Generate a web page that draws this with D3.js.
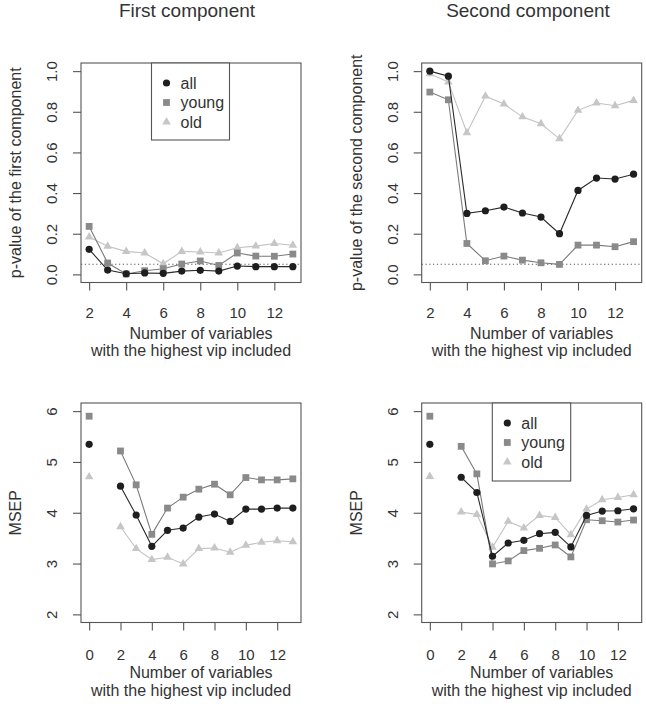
<!DOCTYPE html>
<html>
<head>
<meta charset="utf-8">
<script src="https://cdn.jsdelivr.net/npm/d3@7"></script>
<style>
  html, body { margin: 0; padding: 0; background: #fff; }
  svg { display: block; }
  text { font-family: "Liberation Sans", Arial, sans-serif; fill: #333; }
</style>
</head>
<body>
<svg id="chart" width="646" height="704"></svg>
<script>
// ---------- data ----------
const seriesNames = ["all", "young", "old"];
const titles = ["First component", "Second component"];
const xLabelLines = ["Number of variables", "with the highest vip included"];
const yLabels = ["p-value of the first component", "p-value of the second component", "MSEP", "MSEP"];

const pX = [2, 3, 4, 5, 6, 7, 8, 9, 10, 11, 12, 13];
const mX = [0, 2, 3, 4, 5, 6, 7, 8, 9, 10, 11, 12, 13];

const pTicksX = [2, 4, 6, 8, 10, 12];
const mTicksX = [0, 2, 4, 6, 8, 10, 12];
const pTicksY = [0.0, 0.2, 0.4, 0.6, 0.8, 1.0];
const mTicksY = [2, 3, 4, 5, 6];
const pLimY = [0, 1];
const mLimY = [2, 6];
const thresholdP = 0.05;

// First component p-values
const p1All   = [0.123, 0.021, 0.003, 0.007, 0.005, 0.016, 0.020, 0.016, 0.041, 0.038, 0.038, 0.038];
const p1Young = [0.236, 0.056, 0.002, 0.018, 0.028, 0.051, 0.066, 0.044, 0.105, 0.090, 0.089, 0.100];
const p1Old   = [0.184, 0.138, 0.113, 0.105, 0.052, 0.113, 0.110, 0.105, 0.131, 0.139, 0.152, 0.143];

// Second component p-values
const p2All   = [1.000, 0.975, 0.300, 0.313, 0.331, 0.302, 0.282, 0.200, 0.413, 0.474, 0.469, 0.493];
const p2Young = [0.897, 0.859, 0.152, 0.067, 0.090, 0.070, 0.057, 0.049, 0.144, 0.144, 0.136, 0.161];
const p2Old   = [0.987, 0.946, 0.697, 0.877, 0.838, 0.775, 0.741, 0.667, 0.807, 0.843, 0.830, 0.856];

// First component MSEP
const m1All   = [5.346, 4.523, 3.954, 3.340, 3.654, 3.699, 3.915, 3.974, 3.830, 4.072, 4.072, 4.092, 4.092];
const m1Young = [5.900, 5.216, 4.549, 3.575, 4.092, 4.307, 4.464, 4.562, 4.353, 4.693, 4.647, 4.647, 4.667];
const m1Old   = [4.706, 3.725, 3.294, 3.078, 3.124, 2.993, 3.294, 3.307, 3.222, 3.360, 3.418, 3.450, 3.430];

// Second component MSEP
const m2All   = [5.346, 4.699, 4.399, 3.144, 3.405, 3.458, 3.588, 3.614, 3.327, 3.948, 4.033, 4.039, 4.078];
const m2Young = [5.900, 5.307, 4.765, 2.993, 3.052, 3.255, 3.300, 3.366, 3.131, 3.863, 3.843, 3.817, 3.856];
const m2Old   = [4.712, 4.013, 3.967, 3.320, 3.830, 3.699, 3.948, 3.908, 3.569, 4.072, 4.255, 4.300, 4.353];

// ---------- styles ----------
const colors = { all: "#1e1e1e", young: "#8a8a8a", old: "#c6c6c6" };
const lineColors = { all: "#2a2a2a", young: "#7a7a7a", old: "#c2c2c2" };
const shapes = { all: "circle", young: "square", old: "triangle" };

const svg = d3.select("#chart");

function rLim(lo, hi) { const d = (hi - lo) * 0.04; return [lo - d, hi + d]; }

function symbolPath(shape) {
  if (shape === "circle") return d3.symbol(d3.symbolCircle, Math.PI * 3.6 * 3.6)();
  if (shape === "square") return d3.symbol(d3.symbolSquare, 6.8 * 6.8)();
  return d3.symbol(d3.symbolTriangle, Math.sqrt(3) / 4 * 8.6 * 8.6)();
}

function drawMarker(g, shape, x, y, color) {
  g.append("path")
    .attr("d", symbolPath(shape))
    .attr("transform", `translate(${x},${y})`)
    .attr("fill", color);
}

function panel(cfg) {
  const g = svg.append("g");
  const { left, top, width, height } = cfg;
  const right = left + width, bottom = top + height;

  const xs = d3.scaleLinear().domain(rLim(d3.min(cfg.xs), d3.max(cfg.xs))).range([left, right]);
  const ys = d3.scaleLinear().domain(rLim(cfg.ylim[0], cfg.ylim[1])).range([bottom, top]);

  // threshold line
  if (cfg.threshold !== undefined) {
    g.append("line")
      .attr("x1", left).attr("x2", right)
      .attr("y1", ys(cfg.threshold)).attr("y2", ys(cfg.threshold))
      .attr("stroke", "#555").attr("stroke-width", 1.1)
      .attr("stroke-dasharray", "1.2,2.6");
  }

  // series: draw old, young, all (all on top)
  const order = ["old", "young", "all"];
  order.forEach(name => {
    const vals = cfg.data[name];
    const pts = cfg.xs.map((x, i) => ({ x, y: vals[i] }));
    // split into segments of consecutive x values
    const segs = [];
    let cur = [];
    pts.forEach((p, i) => {
      if (i > 0 && p.x - pts[i - 1].x > 1) { segs.push(cur); cur = []; }
      cur.push(p);
    });
    segs.push(cur);
    const line = d3.line().x(d => xs(d.x)).y(d => ys(d.y));
    segs.filter(s => s.length > 1).forEach(s => {
      g.append("path").attr("d", line(s))
        .attr("fill", "none").attr("stroke", lineColors[name]).attr("stroke-width", 1.1);
    });
    pts.forEach(p => drawMarker(g, shapes[name], xs(p.x), ys(p.y), colors[name]));
  });

  // box
  g.append("rect").attr("x", left).attr("y", top).attr("width", width).attr("height", height)
    .attr("fill", "none").attr("stroke", "#555").attr("stroke-width", 1.1);

  // x axis
  const xa = g.append("g").attr("transform", `translate(0,${bottom})`)
    .call(d3.axisBottom(xs).tickValues(cfg.xTicks).tickSize(8).tickPadding(cfg.xTickPad).tickFormat(d3.format("d")));
  xa.select(".domain").remove();
  xa.selectAll(".tick line").attr("stroke", "#555").attr("stroke-width", 1.1);
  xa.selectAll(".tick text").attr("font-size", 15).attr("fill", "#333")
    .attr("font-family", "Liberation Sans, Arial, sans-serif");

  // y axis
  const ya = g.append("g").attr("transform", `translate(${left},0)`)
    .call(d3.axisLeft(ys).tickValues(cfg.yTicks).tickSize(8).tickFormat(cfg.yFormat));
  ya.select(".domain").remove();
  ya.selectAll(".tick line").attr("stroke", "#555").attr("stroke-width", 1.1);
  ya.selectAll(".tick text")
    .attr("x", null).attr("dy", null)
    .attr("transform", "translate(-24,0) rotate(-90)")
    .attr("text-anchor", "middle")
    .attr("font-size", 15).attr("fill", "#333")
    .attr("font-family", "Liberation Sans, Arial, sans-serif");

  // x label
  g.append("text").attr("x", cfg.xLab1X).attr("y", cfg.xLab1Y).attr("text-anchor", "middle")
    .attr("font-size", 16).text(xLabelLines[0]);
  g.append("text").attr("x", left + width / 2).attr("y", cfg.xLab2Y).attr("text-anchor", "middle")
    .attr("font-size", 16).text(xLabelLines[1]);

  // y label
  g.append("text")
    .attr("transform", `translate(${left - 60},${top + height / 2}) rotate(-90)`)
    .attr("text-anchor", "middle").attr("font-size", 16).text(cfg.yLabel);

  // title
  if (cfg.title) {
    g.append("text").attr("x", cfg.titleX).attr("y", 17).attr("text-anchor", "middle")
      .attr("font-size", 19).text(cfg.title);
  }

  // legend
  if (cfg.legend) {
    const lg = g.append("g");
    const L = cfg.legend;
    lg.append("rect").attr("x", L.x).attr("y", L.y).attr("width", L.w).attr("height", L.h)
      .attr("fill", "#fff").attr("stroke", "#555").attr("stroke-width", 1.1);
    seriesNames.forEach((name, i) => {
      const cy = L.y + 20 + i * 19.5;
      drawMarker(lg, shapes[name], L.x + 15, cy, colors[name]);
      lg.append("text").attr("x", L.x + 29).attr("y", cy + 5.5).attr("font-size", 16).text(name);
    });
  }
}

const colLeft = [81, 421.7];
const rowTop = [63, 403];
const W = 220, H = 219.5;

panel({
  left: colLeft[0], top: rowTop[0], width: W, height: H,
  xs: pX, data: { all: p1All, young: p1Young, old: p1Old },
  ylim: pLimY, xTicks: pTicksX, yTicks: pTicksY, yFormat: d3.format(".1f"),
  threshold: thresholdP, xTickPad: 17, xLab1X: 201, xLab1Y: 338.5, xLab2Y: 356,
  yLabel: yLabels[0], title: titles[0], titleX: 187,
  legend: { x: 151.5, y: 63, w: 78, h: 77 }
});
panel({
  left: colLeft[1], top: rowTop[0], width: W, height: H,
  xs: pX, data: { all: p2All, young: p2Young, old: p2Old },
  ylim: pLimY, xTicks: pTicksX, yTicks: pTicksY, yFormat: d3.format(".1f"),
  threshold: thresholdP, xTickPad: 17, xLab1X: 541.7, xLab1Y: 338.5, xLab2Y: 356,
  yLabel: yLabels[1], title: titles[1], titleX: 528
});
panel({
  left: colLeft[0], top: rowTop[1], width: W, height: H,
  xs: mX, data: { all: m1All, young: m1Young, old: m1Old },
  ylim: mLimY, xTicks: mTicksX, yTicks: mTicksY, yFormat: d3.format("d"),
  xTickPad: 18.5, xLab1X: 201, xLab1Y: 678, xLab2Y: 696,
  yLabel: yLabels[2]
});
panel({
  left: colLeft[1], top: rowTop[1], width: W, height: H,
  xs: mX, data: { all: m2All, young: m2Young, old: m2Old },
  ylim: mLimY, xTicks: mTicksX, yTicks: mTicksY, yFormat: d3.format("d"),
  xTickPad: 18.5, xLab1X: 541.7, xLab1Y: 678, xLab2Y: 696,
  yLabel: yLabels[3],
  legend: { x: 492.3, y: 403, w: 78.4, h: 78 }
});
</script>
</body>
</html>
